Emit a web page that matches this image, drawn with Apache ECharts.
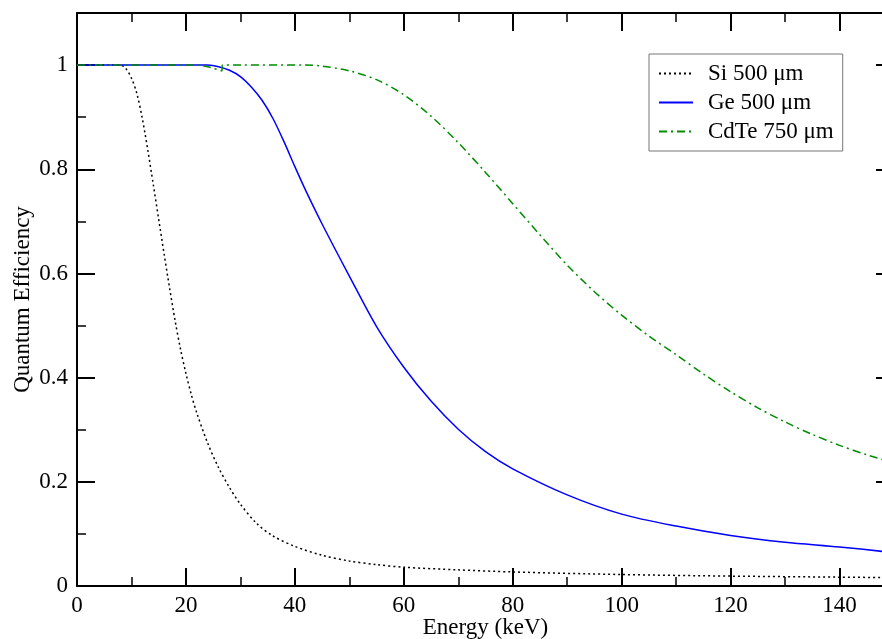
<!DOCTYPE html>
<html>
<head>
<meta charset="utf-8">
<script src="https://cdn.jsdelivr.net/npm/echarts@6/dist/echarts.min.js"></script>
<style>
html,body{margin:0;padding:0;background:#fff;}
#chart{width:882px;height:639px;}
</style>
</head>
<body>
<div id="chart"></div>
<script>
// ---- Data ----
const seriesNames = ['Si 500 \u03bcm', 'Ge 500 \u03bcm', 'CdTe 750 \u03bcm'];

const siEnergy = [0, 5, 8, 9, 10, 11, 12, 13, 14, 15, 16, 17, 18, 19, 20, 21, 22, 24, 26, 28, 30, 33, 36, 40, 45, 50, 55, 60, 70, 80, 100, 120, 140, 150];
const siQE     = [1, 1, 1, 0.993, 0.975, 0.945, 0.897, 0.837, 0.771, 0.704, 0.637, 0.572, 0.51, 0.455, 0.408, 0.367, 0.332, 0.274, 0.227, 0.189, 0.157, 0.12, 0.096, 0.076, 0.059, 0.048, 0.041, 0.036, 0.031, 0.027, 0.022, 0.019, 0.017, 0.016];

const geEnergy = [0, 20, 24, 26, 28, 30, 32, 34, 36, 38, 40, 42, 45, 50, 55, 60, 65, 70, 75, 80, 90, 100, 110, 120, 130, 140, 150];
const geQE     = [1, 1, 1, 0.997, 0.99, 0.978, 0.958, 0.932, 0.897, 0.853, 0.805, 0.759, 0.695, 0.595, 0.498, 0.42, 0.355, 0.301, 0.258, 0.225, 0.175, 0.138, 0.115, 0.097, 0.084, 0.075, 0.064];

const cdteEnergy = [0, 22, 24, 26.6, 26.7, 30, 42, 45, 50, 55, 60, 65, 70, 75, 80, 85, 90, 95, 100, 105, 110, 115, 120, 125, 130, 135, 140, 145, 150];
const cdteQE     = [1, 1, 0.997, 0.989, 1, 1, 1, 0.998, 0.989, 0.972, 0.943, 0.902, 0.851, 0.794, 0.734, 0.674, 0.616, 0.565, 0.52, 0.48, 0.444, 0.407, 0.373, 0.342, 0.315, 0.291, 0.27, 0.252, 0.236];

const xMin = 0, xMax = 150, xMajor = 20, xMinor = 10;
const yMin = 0, yMax = 1.1, yMajor = 0.2, yMinor = 0.1;
const xTitle = 'Energy (keV)';
const yTitle = 'Quantum Efficiency';

// ---- Chart ----
const FONT = 'Liberation Serif';
const gridRect = {left: 77, top: 13, width: 817, height: 573, containLabel: false, outerBoundsMode: 'none'};

function pairs(xs, ys) { return xs.map((x, i) => [x, ys[i]]); }

const majorTick = (len) => ({show: true, inside: true, length: len, lineStyle: {color: '#000', width: 2}});
const minorTick = {show: true, inside: true, length: 9, lineStyle: {color: '#000', width: 1.5}};
const lineOn = {show: true, onZero: false, lineStyle: {color: '#000', width: 2}};
const lineOff = {show: false, onZero: false};

const chart = echarts.init(document.getElementById('chart'), null, {renderer: 'canvas'});
chart.setOption({
  animation: false,
  backgroundColor: '#fff',
  grid: [
    Object.assign({}, gridRect),
    Object.assign({}, gridRect)
  ],
  legend: {
    show: true,
    left: 649, top: 54,
    orient: 'vertical',
    padding: [8, 9, 8, 9],
    itemWidth: 34, itemHeight: 14, itemGap: 6,
    borderColor: '#777', borderWidth: 1,
    backgroundColor: '#fff',
    itemStyle: {opacity: 0},
    textStyle: {fontFamily: FONT, fontSize: 23, color: '#000', padding: [0, 0, 0, 10]},
    data: seriesNames
  },
  xAxis: [
    {gridIndex: 0, type: 'value', position: 'bottom', min: xMin, max: xMax, interval: xMajor,
     axisLine: lineOn, axisTick: majorTick(18), splitLine: {show: false},
     axisLabel: {show: true, showMaxLabel: false, margin: 8, fontFamily: FONT, fontSize: 23, color: '#000'},
     name: xTitle, nameLocation: 'middle', nameGap: 30, nameMoveOverlap: false,
     nameTextStyle: {fontFamily: FONT, fontSize: 23, color: '#000'}},
    {gridIndex: 0, type: 'value', position: 'top', min: xMin, max: xMax, interval: xMajor,
     axisLine: lineOn, axisTick: majorTick(18), splitLine: {show: false}, axisLabel: {show: false}},
    {gridIndex: 1, type: 'value', position: 'bottom', min: xMin, max: xMax, interval: xMinor,
     axisLine: lineOff, axisTick: minorTick, splitLine: {show: false}, axisLabel: {show: false}},
    {gridIndex: 1, type: 'value', position: 'top', min: xMin, max: xMax, interval: xMinor,
     axisLine: lineOff, axisTick: minorTick, splitLine: {show: false}, axisLabel: {show: false}}
  ],
  yAxis: [
    {gridIndex: 0, type: 'value', position: 'left', min: yMin, max: yMax, interval: yMajor,
     axisLine: lineOn, axisTick: majorTick(18), splitLine: {show: false},
     axisLabel: {show: true, showMaxLabel: false, margin: 9, fontFamily: FONT, fontSize: 23, color: '#000',
       formatter: v => String(Math.round(v * 10) / 10)},
     name: yTitle, nameLocation: 'middle', nameGap: 43, nameMoveOverlap: false,
     nameTextStyle: {fontFamily: FONT, fontSize: 23, color: '#000'}},
    {gridIndex: 0, type: 'value', position: 'right', min: yMin, max: yMax, interval: yMajor,
     axisLine: lineOn, axisTick: majorTick(18), splitLine: {show: false}, axisLabel: {show: false}},
    {gridIndex: 1, type: 'value', position: 'left', min: yMin, max: yMax, interval: yMinor,
     axisLine: lineOff, axisTick: minorTick, splitLine: {show: false}, axisLabel: {show: false}},
    {gridIndex: 1, type: 'value', position: 'right', min: yMin, max: yMax, interval: yMinor,
     axisLine: lineOff, axisTick: minorTick, splitLine: {show: false}, axisLabel: {show: false}}
  ],
  series: [
    {name: seriesNames[0], type: 'line', xAxisIndex: 0, yAxisIndex: 0, data: pairs(siEnergy, siQE),
     symbol: 'none', showSymbol: false, smooth: 0.3,
     lineStyle: {color: '#000', width: 1.5, type: [2, 3]}, itemStyle: {color: '#000'}},
    {name: seriesNames[1], type: 'line', xAxisIndex: 0, yAxisIndex: 0, data: pairs(geEnergy, geQE),
     symbol: 'none', showSymbol: false, smooth: 0.3,
     lineStyle: {color: '#0000ff', width: 1.5, type: 'solid'}, itemStyle: {color: '#0000ff'}},
    {name: seriesNames[2], type: 'line', xAxisIndex: 0, yAxisIndex: 0, data: pairs(cdteEnergy, cdteQE),
     symbol: 'none', showSymbol: false, smooth: 0.3,
     lineStyle: {color: '#008b00', width: 1.5, type: [8, 4, 2, 4]}, itemStyle: {color: '#008b00'}}
  ]
});
</script>
</body>
</html>
